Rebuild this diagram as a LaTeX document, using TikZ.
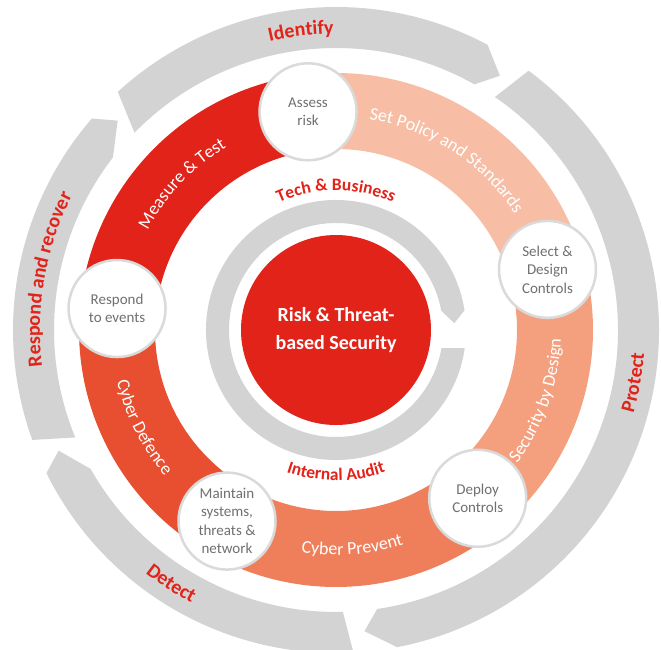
\documentclass[tikz,border=0pt]{standalone}
\usepackage{fontspec}
\setmainfont{Carlito}
\usetikzlibrary{decorations.text}

\definecolor{vfred}{RGB}{226,35,26}
\definecolor{ringgray}{RGB}{211,211,211}
\definecolor{rimline}{RGB}{218,218,218}
\definecolor{stagetext}{RGB}{112,112,112}
\definecolor{bandB}{RGB}{248,190,165}
\definecolor{bandC}{RGB}{244,160,127}
\definecolor{bandD}{RGB}{239,127,90}
\definecolor{bandE}{RGB}{232,78,48}

\newcommand\bandfont{\color{white}\fontsize{18}{18}\selectfont}
\newcommand\rimfont{\color{vfred}\bfseries\fontsize{20}{20}\selectfont}
\newcommand\hubfont{\color{vfred}\bfseries\fontsize{17.5}{17.5}\selectfont}

\begin{document}
\begin{tikzpicture}[x=1pt, y=1pt,
  stage/.style={circle, minimum size=97pt, inner sep=0pt, fill=white, draw=rimline,
                line width=2.5pt, text=stagetext, align=center,
                font=\fontsize{15}{18.5}\selectfont},
  hub/.style={circle, minimum size=190pt, inner sep=0pt, fill=vfred, text=white,
              align=center, font=\bfseries\fontsize{20}{28}\selectfont},
  arctext/.style={decorate, decoration={text along path, text align=center, text={#1}}}]

  %% ════ 外圈四段箭头（Identify / Protect / Detect / Respond）════
  \fill[ringgray] (132.5:323) arc[start angle=132.5, end angle=62.0, radius=323]
    -- (57.2:302.5) -- (60.6:282) arc[start angle=60.6, end angle=135.6, radius=282] -- cycle;
  \fill[ringgray] (53.4:323) arc[start angle=53.4, end angle=-79.1, radius=323]
    -- (-84.6:302.5) -- (-81.6:282) arc[start angle=-81.6, end angle=55.7, radius=282] -- cycle;
  \fill[ringgray] (-86.9:323) arc[start angle=-86.9, end angle=-153.7, radius=323]
    -- (-156.5:302.5) -- (-150.5:282) arc[start angle=-150.5, end angle=-88.6, radius=282] -- cycle;
  \fill[ringgray] (-160.1:323) arc[start angle=-160.1, end angle=-220.9, radius=323]
    -- (-223.8:302.5) -- (-217.7:282) arc[start angle=-217.7, end angle=-157.6, radius=282] -- cycle;

  %% ════ 彩色环（五段）════
  \fill[vfred] (174.4:257) arc[start angle=174.4, end angle=97.3, radius=257]
    -- (97.3:181) arc[start angle=97.3, end angle=174.4, radius=181] -- cycle;
  \fill[bandB] (97.3:257) arc[start angle=97.3, end angle=16.0, radius=257]
    -- (16.0:181) arc[start angle=16.0, end angle=97.3, radius=181] -- cycle;
  \fill[bandC] (16.0:257) arc[start angle=16.0, end angle=-49.9, radius=257]
    -- (-49.9:181) arc[start angle=-49.9, end angle=16.0, radius=181] -- cycle;
  \fill[bandD] (-49.9:257) arc[start angle=-49.9, end angle=-119.7, radius=257]
    -- (-119.7:181) arc[start angle=-119.7, end angle=-49.9, radius=181] -- cycle;
  \fill[bandE] (-119.7:257) arc[start angle=-119.7, end angle=-185.6, radius=257]
    -- (-185.6:181) arc[start angle=-185.6, end angle=-119.7, radius=181] -- cycle;

  %% ════ 内圈 C 形箭头 + 中心 ════
  \fill[ringgray] (-8.0:130) arc[start angle=-8.0, end angle=-351.3, radius=130]
    -- (-356.7:118.5) -- (-349.6:107) arc[start angle=-349.6, end angle=-9.7, radius=107] -- cycle;
  \node[hub] (hub) at (0,0) {Risk \& Threat-\\based Security};

  %% ════ 五个白圈 ════
  \node[stage] (assess)   at (97.3:220)   {Assess\\risk};
  \node[stage] (select)   at (16.0:220)   {Select \&\\Design\\Controls};
  \node[stage] (deploy)   at (-49.9:220)  {Deploy\\Controls};
  \node[stage] (maintain) at (-119.7:220) {Maintain\\systems,\\threats \&\\network};
  \node[stage] (respond)  at (174.4:220)  {Respond\\to events};

  %% ════ 弧形文字 ════
  % 上半圈顺时针走（字头朝外），下半圈逆时针走（字头朝内）
  \path[arctext={|\bandfont|Measure {\&} Test}] (161.5:213) arc[start angle=161.5, end angle=111.5, radius=213];
  \path[arctext={|\bandfont|Set Policy and Standards}] (97:213) arc[start angle=97, end angle=17, radius=213];
  \path[arctext={|\bandfont|Security by Design}] (-49.3:225) arc[start angle=-49.3, end angle=10.7, radius=225];
  \path[arctext={|\bandfont|Cyber Prevent}] (-110.7:225) arc[start angle=-110.7, end angle=-60.7, radius=225];
  \path[arctext={|\bandfont|Cyber Defence}] (181.8:225) arc[start angle=181.8, end angle=231.8, radius=225];

  \path[arctext={|\hubfont|Tech {\&} Business}] (120:139.5) arc[start angle=120, end angle=60, radius=139.5];
  \path[arctext={|\hubfont|Internal Audit}] (-120:150.5) arc[start angle=-120, end angle=-60, radius=150.5];

  \path[arctext={|\rimfont|Identify}] (126.7:296) arc[start angle=126.7, end angle=66.7, radius=296];
  \path[arctext={|\rimfont|Respond and recover}] (215:296) arc[start angle=215, end angle=125, radius=296];
  \path[arctext={|\rimfont|Protect}] (-35:309) arc[start angle=-35, end angle=15, radius=309];
  \path[arctext={|\rimfont|Detect}] (212:309) arc[start angle=212, end angle=262, radius=309];

  % 画布
  \pgfresetboundingbox
  \path[use as bounding box] (-336,-319) rectangle (325,330);
\end{tikzpicture}
\end{document}
